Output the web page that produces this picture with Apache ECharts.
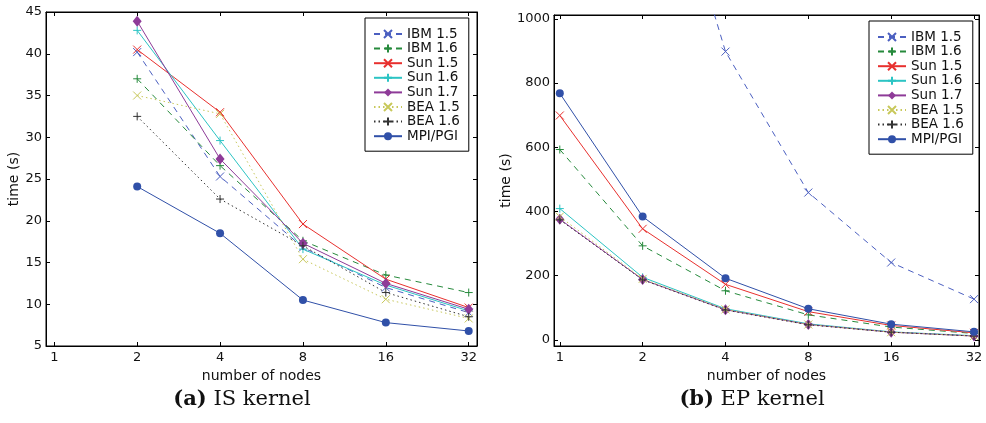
<!DOCTYPE html>
<html>
<head>
<meta charset="utf-8">
<script src="https://cdn.jsdelivr.net/npm/echarts@6/dist/echarts.min.js"></script>
<style>html,body{margin:0;padding:0;background:#fff;}#c{width:986px;height:423px;}</style>
</head>
<body>
<div id="c"></div>
<script>
// ---- data ----
const nodes = [1, 2, 4, 8, 16, 32];
const seriesNames = ['IBM 1.5', 'IBM 1.6', 'Sun 1.5', 'Sun 1.6', 'Sun 1.7', 'BEA 1.5', 'BEA 1.6', 'MPI/PGI'];
// IS kernel (no run on 1 node)
const isIBM15 = [null, 40.2, 25.3, 16.8, 12.0, 9.0];
const isIBM16 = [null, 37.0, 26.6, 17.6, 13.5, 11.4];
const isSun15 = [null, 40.5, 33.0, 19.6, 13.0, 9.6];
const isSun16 = [null, 42.8, 29.6, 16.6, 12.3, 9.2];
const isSun17 = [null, 43.9, 27.4, 17.3, 12.5, 9.4];
const isBEA15 = [null, 35.0, 32.8, 15.4, 10.6, 8.3];
const isBEA16 = [null, 32.5, 22.6, 17.0, 11.4, 8.5];
const isMPI   = [null, 24.1, 18.5, 10.5, 7.8, 6.8];
// EP kernel
const epIBM15 = [3500, 1760, 898, 459, 241, 127];
const epIBM16 = [593, 293, 153, 78, 40, 20];
const epSun15 = [699, 346, 173, 88, 45, 22];
const epSun16 = [409, 195, 97, 50, 25, 13];
const epSun17 = [376, 188, 94, 48, 24, 12];
const epBEA15 = [384, 190, 95, 48, 24, 12];
const epBEA16 = [374, 187, 93, 47, 24, 12];
const epMPI   = [768, 384, 192, 97, 49, 25];
const isTicks = [5, 10, 15, 20, 25, 30, 35, 40, 45];
const epTicks = [0, 200, 400, 600, 800, 1000];

const isData = [isIBM15, isIBM16, isSun15, isSun16, isSun17, isBEA15, isBEA16, isMPI];
const epData = [epIBM15, epIBM16, epSun15, epSun16, epSun17, epBEA15, epBEA16, epMPI];

// ---- styles ----
const X = 'path://M0,0L10,10M10,0L0,10';
const P = 'path://M5,0L5,10M0,5L10,5';
const styles = [
  {color: '#4b5fc0', type: [6, 5], symbol: X, size: 8, stroke: true},
  {color: '#268a3c', type: [6, 5], symbol: P, size: 8, stroke: true},
  {color: '#e8302e', type: 'solid', symbol: X, size: 8, stroke: true},
  {color: '#2cc4c4', type: 'solid', symbol: P, size: 8, stroke: true},
  {color: '#8e3b98', type: 'solid', symbol: 'diamond', size: [9, 11], stroke: false},
  {color: '#c8c85a', type: [1.5, 3], symbol: X, size: 8, stroke: true},
  {color: '#333333', type: [1.5, 3], symbol: P, size: 8, stroke: true},
  {color: '#3050a8', type: 'solid', symbol: 'circle', size: 8, stroke: false}
];

const lg2 = v => Math.log(v) / Math.LN2;
const xTickVals = nodes.map(lg2);

function mkSeries(data, gi) {
  return data.map((arr, i) => {
    const s = styles[i];
    return {
      name: seriesNames[i],
      type: 'line',
      xAxisIndex: gi, yAxisIndex: gi,
      data: nodes.map((n, k) => arr[k] == null ? null : [lg2(n), arr[k]]).filter(d => d),
      symbol: s.symbol,
      symbolSize: s.size,
      showSymbol: true,
      clip: true,
      lineStyle: {color: s.color, width: 1, type: s.type},
      itemStyle: s.stroke ? {color: s.color, borderColor: s.color, borderWidth: 1} : {color: s.color, borderColor: s.color, borderWidth: 0},
      emphasis: {disabled: true},
      z: 2 + i
    };
  });
}

const font = 'DejaVu Sans';
const axisLineStyle = {show: true, onZero: false, lineStyle: {color: '#000', width: 1}};

function xAx(gi, min, max, pos, labels) {
  return {
    type: 'value', gridIndex: gi, min: min, max: max, position: pos,
    name: labels ? 'number of nodes' : '', nameLocation: 'middle', nameGap: 21,
    nameTextStyle: {fontFamily: font, fontSize: 14, color: '#111'},
    axisLine: axisLineStyle,
    axisTick: {show: true, inside: true, length: 4, customValues: xTickVals, lineStyle: {color: '#000'}},
    axisLabel: {show: labels, customValues: xTickVals, margin: 5, fontFamily: font, fontSize: 13, color: '#111',
      formatter: v => String(Math.round(Math.pow(2, v)))},
    splitLine: {show: false}
  };
}
function yAx(gi, min, max, ticks, pos, labels, gap) {
  return {
    type: 'value', gridIndex: gi, min: min, max: max, position: pos,
    name: labels ? 'time (s)' : '', nameLocation: 'middle', nameGap: gap,
    nameTextStyle: {fontFamily: font, fontSize: 14, color: '#111'},
    axisLine: axisLineStyle,
    axisTick: {show: true, inside: true, length: 4, customValues: ticks, lineStyle: {color: '#000'}},
    axisLabel: {show: labels, customValues: ticks, margin: 4, fontFamily: font, fontSize: 13, color: '#111',
      formatter: v => String(v)},
    splitLine: {show: false}
  };
}

function legend(left, top) {
  return {
    data: seriesNames, left: left, top: top, orient: 'vertical',
    backgroundColor: '#fff', borderColor: '#000', borderWidth: 1, borderRadius: 0,
    padding: [9, 9, 8, 8], itemGap: 0.6, itemWidth: 28, itemHeight: 10,
    textStyle: {fontFamily: font, fontSize: 13.5, color: '#111', lineHeight: 14},
    selectedMode: false
  };
}

// invisible helper series so the mirrored frame axes (top / right) are laid out
function frameSeries(ai) {
  return {type: 'line', xAxisIndex: ai, yAxisIndex: ai, data: [], silent: true, showSymbol: false};
}

const chart = echarts.init(document.getElementById('c'));
chart.setOption({
  animation: false,
  backgroundColor: '#fff',
  grid: [
    {left: 46, top: 12, width: 431, height: 334, show: true, borderColor: '#000', borderWidth: 1, backgroundColor: 'transparent'},
    {left: 554, top: 15, width: 425, height: 331, show: true, borderColor: '#000', borderWidth: 1, backgroundColor: 'transparent'}
  ],
  xAxis: [
    xAx(0, -0.1, 5.1, 'bottom', true),
    xAx(1, -0.07, 5.06, 'bottom', true),
    xAx(0, -0.1, 5.1, 'top', false),
    xAx(1, -0.07, 5.06, 'top', false)
  ],
  yAxis: [
    yAx(0, 5, 45, isTicks, 'left', true, 22),
    yAx(1, -19, 1012, epTicks, 'left', true, 34),
    yAx(0, 5, 45, isTicks, 'right', false, 0),
    yAx(1, -19, 1012, epTicks, 'right', false, 0)
  ],
  legend: [legend(365, 18), legend(869, 21)],
  series: mkSeries(isData, 0).concat(mkSeries(epData, 1)).concat([frameSeries(2), frameSeries(3)]),
  graphic: [
    {type: 'text', x: 242, y: 400, style: {text: '{b|(a)} IS kernel', font: '21px "DejaVu Serif"', fill: '#111',
      align: 'center', verticalAlign: 'middle',
      rich: {b: {fontFamily: 'DejaVu Serif', fontWeight: 'bold', fontSize: 21, fill: '#111'}}}},
    {type: 'text', x: 752, y: 400, style: {text: '{b|(b)} EP kernel', font: '21px "DejaVu Serif"', fill: '#111',
      align: 'center', verticalAlign: 'middle',
      rich: {b: {fontFamily: 'DejaVu Serif', fontWeight: 'bold', fontSize: 21, fill: '#111'}}}}
  ]
});
</script>
</body>
</html>
